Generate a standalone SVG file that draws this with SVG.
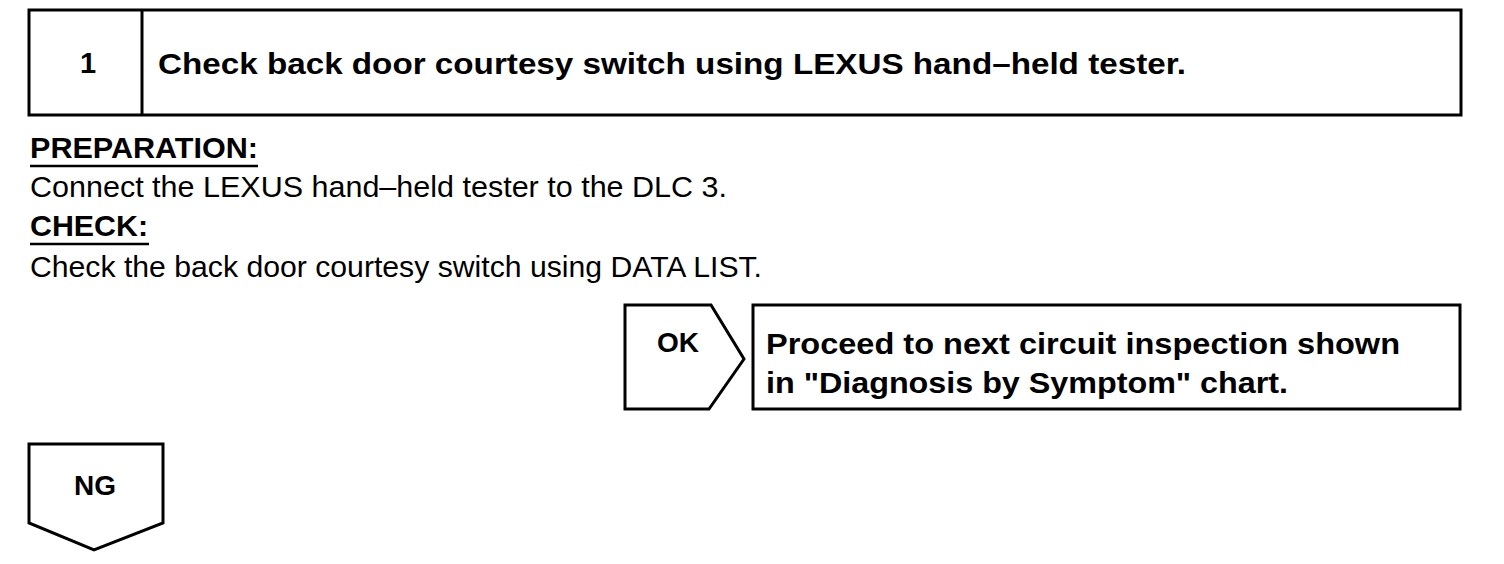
<svg xmlns="http://www.w3.org/2000/svg" width="1504" height="564" viewBox="0 0 1504 564">
<style>
.box{fill:#fff;stroke:#000;stroke-width:3;stroke-linejoin:miter}
.b{font-family:"Liberation Sans",Arial,sans-serif;font-weight:bold;fill:#000}
.r{font-family:"Liberation Sans",Arial,sans-serif;fill:#000}
.ul{stroke:#000;stroke-width:2.5}
</style>
<rect width="1504" height="564" fill="#fff"/>
<g id="step1">
<rect class="box" x="29" y="10" width="1432" height="105"/>
<line x1="142" y1="10" x2="142" y2="115" stroke="#000" stroke-width="3"/>
<text class="b" x="88" y="73" font-size="29" text-anchor="middle">1</text>
<text class="b" x="158" y="74" font-size="30" textLength="1028" lengthAdjust="spacingAndGlyphs">Check back door courtesy switch using LEXUS hand–held tester.</text>
</g>
<g id="instructions">
<text class="b" x="30" y="158" font-size="30" textLength="228" lengthAdjust="spacingAndGlyphs">PREPARATION:</text>
<line class="ul" x1="30" y1="166" x2="258" y2="166"/>
<text class="r" x="30" y="197" font-size="30" textLength="697" lengthAdjust="spacingAndGlyphs">Connect the LEXUS hand–held tester to the DLC 3.</text>
<text class="b" x="30" y="236" font-size="30" textLength="118" lengthAdjust="spacingAndGlyphs">CHECK:</text>
<line class="ul" x1="30" y1="244" x2="149" y2="244"/>
<text class="r" x="30" y="277" font-size="30" textLength="732" lengthAdjust="spacingAndGlyphs">Check the back door courtesy switch using DATA LIST.</text>
</g>
<g id="ok">
<polygon class="box" points="625,305 711,305 744,359 709,409 625,409"/>
<text class="b" x="678" y="352" font-size="28" text-anchor="middle">OK</text>
</g>
<g id="proceed">
<rect class="box" x="753" y="305" width="707" height="104"/>
<text class="b" x="766" y="354" font-size="30" textLength="634" lengthAdjust="spacingAndGlyphs">Proceed to next circuit inspection shown</text>
<text class="b" x="766" y="393" font-size="30" textLength="522" lengthAdjust="spacingAndGlyphs">in "Diagnosis by Symptom" chart.</text>
</g>
<g id="ng">
<polygon class="box" points="29,444 163,444 163,523 94,550 29,523"/>
<text class="b" x="95" y="495" font-size="28" text-anchor="middle">NG</text>
</g>
<g id="connectors"></g>
</svg>
